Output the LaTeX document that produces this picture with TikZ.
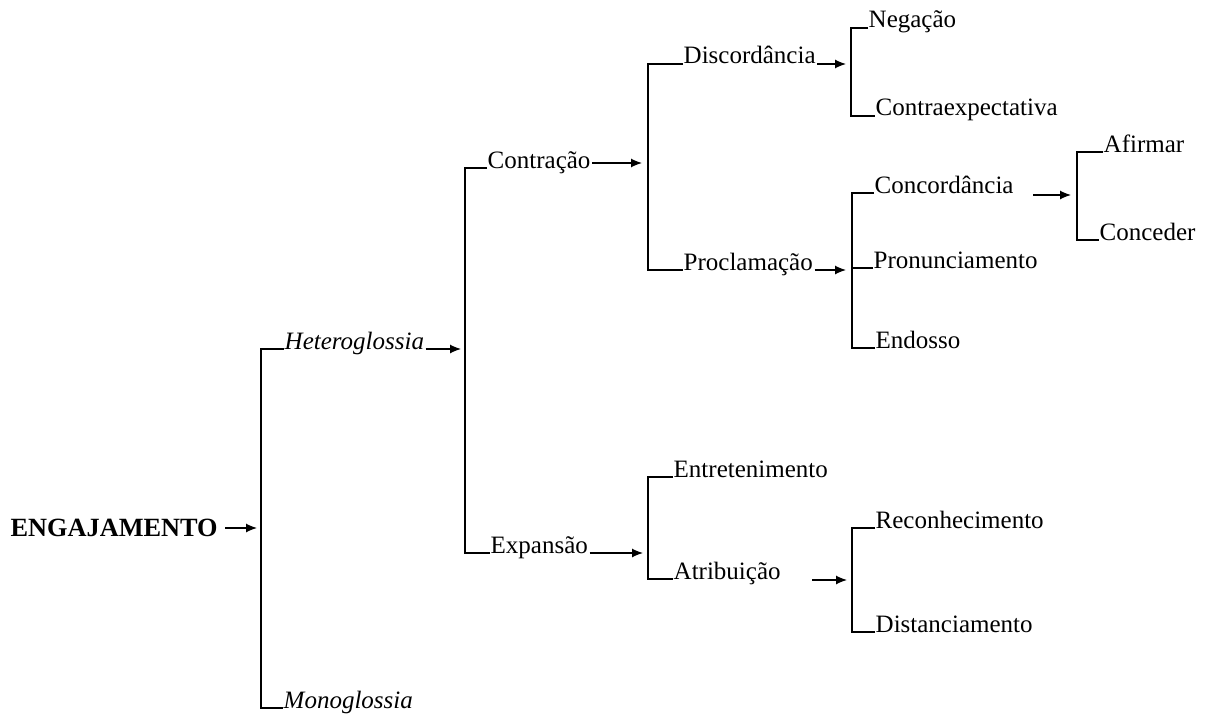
\documentclass[tikz,border=0pt]{standalone}
\usepackage{fontspec}
\setmainfont{Liberation Serif}
\usetikzlibrary{arrows.meta}
\newcommand\labelsize{\fontsize{25}{30}\selectfont}
\newcommand\headsize{\fontsize{26.3}{31}\selectfont}
\tikzset{
  lbl/.style={anchor=base west, inner sep=0pt, font=\labelsize},
  arr/.style={line width=1.2pt, -{Latex[length=11pt,width=9pt]}},
}
\begin{document}
\begin{tikzpicture}[x=1pt,y=-1pt,line width=1.4pt]
\useasboundingbox (0,0) rectangle (1211,717);

% --- labels ---
\node[lbl,font=\headsize\bfseries] (eng) at (10,536) {ENGAJAMENTO};
\node[lbl,font=\labelsize\itshape] (het) at (284,349) {Heteroglossia};
\node[lbl,font=\labelsize\itshape] (mono) at (283,708) {Monoglossia};
\node[lbl] (contr) at (487,168) {Contração};
\node[lbl] (expn) at (490,553) {Expansão};
\node[lbl] (disc) at (683,64) {Discordância};
\node[lbl] (procl) at (683,270) {Proclamação};
\node[lbl] (neg) at (868,28) {Negação};
\node[lbl] (cexp) at (875,116) {Contraexpectativa};
\node[lbl] (conc) at (874,193) {Concordância};
\node[lbl] (pron) at (873,268) {Pronunciamento};
\node[lbl] (endo) at (875,348) {Endosso};
\node[lbl] (afir) at (1103,152) {Afirmar};
\node[lbl] (conced) at (1099,240) {Conceder};
\node[lbl] (entr) at (673,477) {Entretenimento};
\node[lbl] (atrib) at (673,579) {Atribuição};
\node[lbl] (recon) at (875,528) {Reconhecimento};
\node[lbl] (dist) at (875,632) {Distanciamento};

% --- bracket spines (at the height where each arrow meets them) ---
\coordinate (s1) at (261,528);
\coordinate (s2) at (465,349);
\coordinate (s3) at (648,163);
\coordinate (s4) at (851,64);
\coordinate (s5) at (852,270);
\coordinate (s6) at (1077,195);
\coordinate (s7) at (648,553);
\coordinate (s8) at (852,580);

% --- brackets ---
\draw (het.base west) -| (s1) |- (mono.base west);
\draw (contr.base west) -| (s2) |- (expn.base west);
\draw (disc.base west) -| (s3) |- (procl.base west);
\draw (neg.base west) -| (s4) |- (cexp.base west);
\draw (conc.base west) -| (s5) |- (endo.base west);
\draw (pron.base west) -- (s5 |- pron.base west);
\draw (afir.base west) -| (s6) |- (conced.base west);
\draw (entr.base west) -| (s7) |- (atrib.base west);
\draw (recon.base west) -| (s8) |- (dist.base west);

% --- arrows ---
\draw[arr] ([xshift=7pt]s1 -| eng.base east) -- ([xshift=-4pt]s1);
\draw[arr] ([xshift=1pt]het.base east) -- ([xshift=-4pt]s2);
\draw[arr] ([xshift=1pt]s3 -| contr.base east) -- ([xshift=-6pt]s3);
\draw[arr] ([xshift=1pt]expn.base east) -- ([xshift=-5pt]s7);
\draw[arr] ([xshift=1pt]disc.base east) -- ([xshift=-5pt]s4);
\draw[arr] ([xshift=1pt]procl.base east) -- ([xshift=-6pt]s5);
\draw[arr] ([xshift=19pt]s6 -| conc.base east) -- ([xshift=-6pt]s6);
\draw[arr] ([xshift=31pt]s8 -| atrib.base east) -- ([xshift=-5pt]s8);
\end{tikzpicture}
\end{document}
